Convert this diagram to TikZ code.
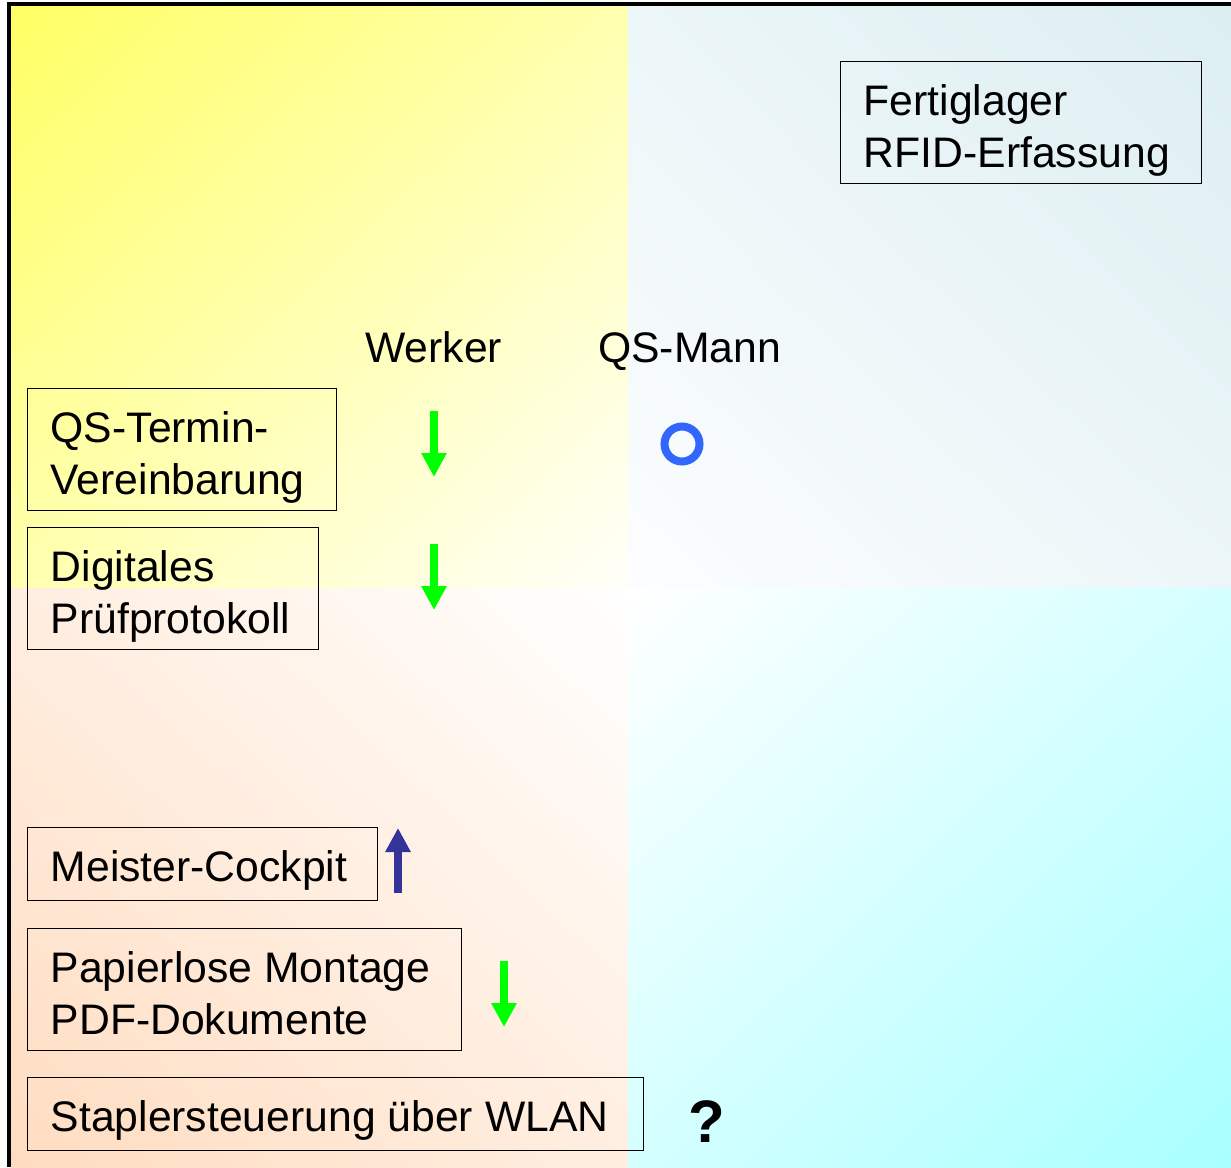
\documentclass[tikz,border=0pt]{standalone}
\usepackage{fontspec}
\setmainfont{Liberation Sans}
\usetikzlibrary{arrows.meta,shadings}

\definecolor{tlA}{RGB}{255,255,100}
\definecolor{tlM}{RGB}{255,255,175}
\definecolor{tlB}{RGB}{255,255,250}
\definecolor{trA}{RGB}{220,238,241}
\definecolor{trM}{RGB}{236,246,248}
\definecolor{trB}{RGB}{252,253,254}
\definecolor{blA}{RGB}{255,220,192}
\definecolor{blM}{RGB}{255,238,224}
\definecolor{blB}{RGB}{255,255,255}
\definecolor{brA}{RGB}{168,255,255}
\definecolor{brM}{RGB}{212,255,255}
\definecolor{brB}{RGB}{255,255,255}
\definecolor{okgreen}{RGB}{0,255,0}
\definecolor{updark}{RGB}{51,51,153}
\definecolor{ringblue}{RGB}{51,102,255}

\newcommand{\bodyfont}{\fontsize{42.7}{52}\selectfont}
\newcommand{\markfont}{\fontsize{60}{70}\selectfont\bfseries}

\begin{document}
\begin{tikzpicture}[x=1pt,y=-1pt,
  box/.style 2 args={draw=black, line width=1.4pt, anchor=north west,
    inner xsep=23pt, inner ysep=0pt, align=flush left, text width=#1,
    font=\bodyfont,
    execute at begin node={\rule{0pt}{54pt}},
    execute at end node={\rule[-#2]{0pt}{#2}}},
  head/.style={anchor=base west, inner sep=0pt, font=\bodyfont},
  trend/.style={line width=8pt, -{Triangle[width=24pt,length=24pt]}}]

\useasboundingbox (0,0) rectangle (1231,1167);

% four shaded quarters of the background
\shade[upper left=tlA, upper right=tlM, lower left=tlM, lower right=tlB]
  (11,6) rectangle (628,588);
\shade[upper right=trA, upper left=trM, lower right=trM, lower left=trB]
  (628,6) rectangle (1231,588);
\shade[lower left=blA, upper left=blM, lower right=blM, upper right=blB]
  (11,588) rectangle (628,1167);
\shade[lower right=brA, upper right=brM, lower left=brM, upper left=brB]
  (628,588) rectangle (1231,1167);

% frame on the left and top
\fill[black] (7,2) rectangle (11,1167);
\fill[black] (7,2) rectangle (1231,6);

% labelled boxes
\node[box={315pt}{16pt}] (lager) at (840,61) {Fertiglager\\RFID-Erfassung};
\node[box={263pt}{16pt}] (termin) at (27,388) {QS-Termin-\\Vereinbarung};
\node[box={245pt}{16pt}] (protokoll) at (27,527) {Digitales\\Prüfprotokoll};
\node[box={304pt}{19pt}] (cockpit) at (27,827) {Meister-Cockpit};
\node[box={388pt}{16pt}] (montage) at (27,928) {Papierlose Montage\\PDF-Dokumente};
\node[box={570pt}{19pt}] (stapler) at (27,1077) {Staplersteuerung über WLAN};

% column headings
\node[head] (werker) at (365,362) {Werker};
\node[head] (qsmann) at (598,362) {QS-Mann};

% trend arrows
\coordinate (t1a) at (434,411);  \coordinate (t1b) at (434,477);
\coordinate (t2a) at (434,544);  \coordinate (t2b) at (434,610);
\coordinate (t3a) at (504,961);  \coordinate (t3b) at (504,1027);
\coordinate (t4a) at (398,893);  \coordinate (t4b) at (398,828);
\draw[trend, okgreen] (t1a) -- (t1b);
\draw[trend, okgreen] (t2a) -- (t2b);
\draw[trend, okgreen] (t3a) -- (t3b);
\draw[trend, updark] (t4a) -- (t4b);

% neutral mark and open question
\node[draw=ringblue, line width=8pt, circle, minimum size=35pt, inner sep=0pt]
  (ring) at (682,444) {};
\node[anchor=base west, inner sep=0pt, font=\markfont] (frage) at (688,1142) {?};

\end{tikzpicture}
\end{document}
